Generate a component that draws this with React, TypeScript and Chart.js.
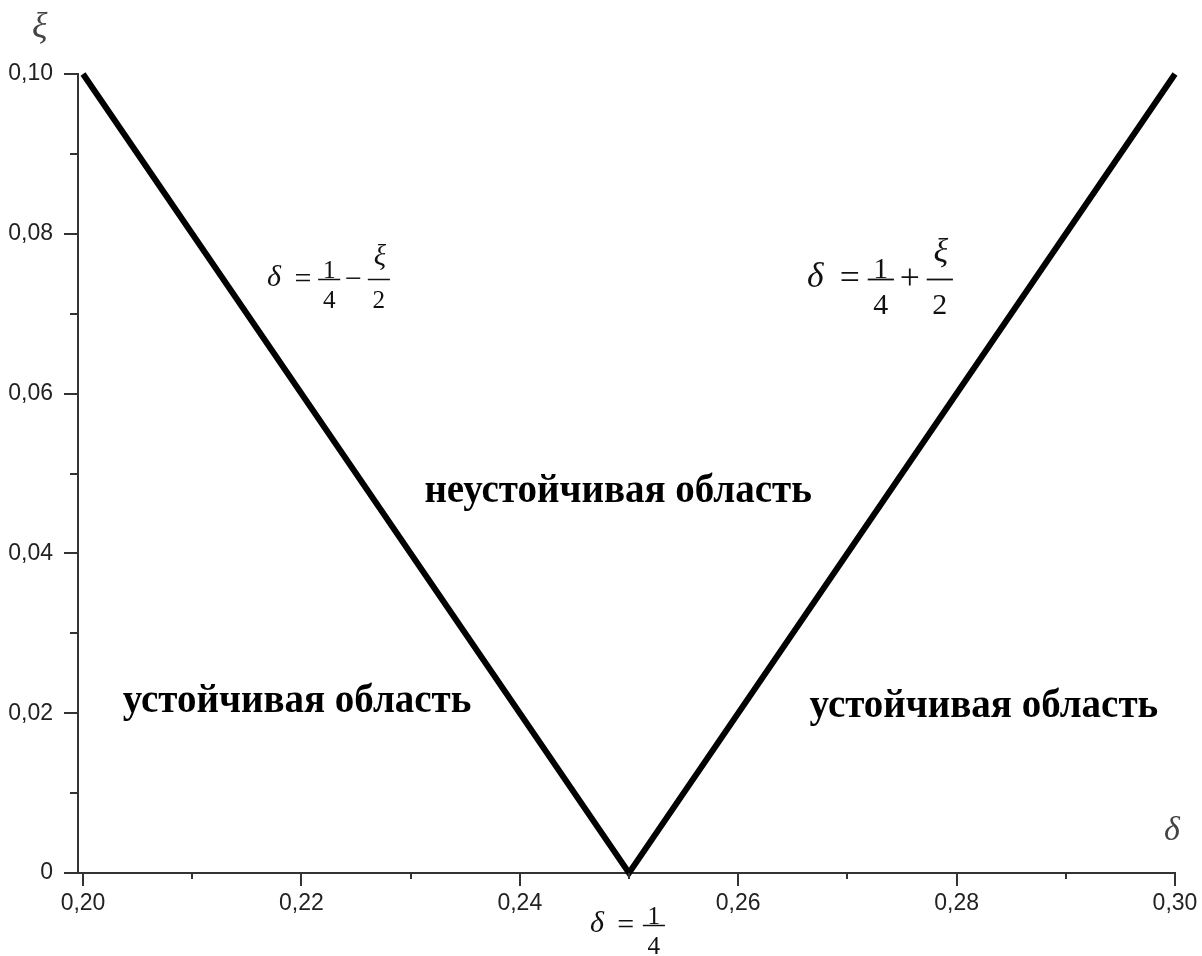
import { useEffect, useRef } from 'react';
import { Chart, registerables } from 'chart.js';

Chart.register(...registerables);

// ---- data ----
const DELTA = [0.2, 0.25, 0.3];
const XI = [0.1, 0, 0.1];

const X_MAJOR = [0.2, 0.22, 0.24, 0.26, 0.28, 0.3];
const X_MINOR = [0.21, 0.23, 0.25, 0.27, 0.29];
const X_LABELS = ['0,20', '0,22', '0,24', '0,26', '0,28', '0,30'];
const Y_MAJOR = [0, 0.02, 0.04, 0.06, 0.08, 0.1];
const Y_MINOR = [0.01, 0.03, 0.05, 0.07, 0.09];
const Y_LABELS = ['0', '0,02', '0,04', '0,06', '0,08', '0,10'];

const X_RANGE = [0.19954, 0.3];
const Y_RANGE = [0, 0.1];

const REGION_TEXT = ['неустойчивая область', 'устойчивая область', 'устойчивая область'];
const REGION_AT_X = [0.249, 0.2196, 0.2825];
const REGION_AT_Y = [0.0464, 0.0202, 0.0195];

type Part = { kind: 'sym' | 'op' | 'frac'; t?: string; n?: string; d?: string; ni?: boolean; at: number };

const FORMULA_LEFT: Part[] = [
  { kind: 'sym', t: 'δ', at: 0 },
  { kind: 'op', t: '=', at: 1.15 },
  { kind: 'frac', n: '1', d: '4', at: 2.13 },
  { kind: 'op', t: '−', at: 3.25 },
  { kind: 'frac', n: 'ξ', d: '2', ni: true, at: 4.2 },
];
const FORMULA_RIGHT: Part[] = [
  { kind: 'sym', t: 'δ', at: 0 },
  { kind: 'op', t: '=', at: 1.15 },
  { kind: 'frac', n: '1', d: '4', at: 2.13 },
  { kind: 'op', t: '+', at: 3.25 },
  { kind: 'frac', n: 'ξ', d: '2', ni: true, at: 4.2 },
];
const FORMULA_BOTTOM: Part[] = [
  { kind: 'sym', t: 'δ', at: 0 },
  { kind: 'op', t: '=', at: 1.13 },
  { kind: 'frac', n: '1', d: '4', at: 2.2 },
];

const FORMULAS = [
  { x: 0.21685, y: 0.0743, s: 24, parts: FORMULA_LEFT },
  { x: 0.2663, y: 0.0743, s: 28.5, parts: FORMULA_RIGHT },
  { x: 0.24643, y: -0.0065, s: 24, parts: FORMULA_BOTTOM },
];

const SERIF = "'Liberation Serif', 'Times New Roman', serif";
const SANS = "'Liberation Sans', Arial, sans-serif";

function near(a: number, b: number) {
  return Math.abs(a - b) < 1e-9;
}

function drawFormula(ctx: CanvasRenderingContext2D, x0: number, bar: number, s: number, parts: Part[]) {
  ctx.fillStyle = '#111';
  ctx.strokeStyle = '#111';
  ctx.textBaseline = 'alphabetic';
  for (const p of parts) {
    const x = x0 + p.at * s;
    if (p.kind === 'sym') {
      ctx.font = `italic ${1.25 * s}px ${SERIF}`;
      ctx.textAlign = 'left';
      ctx.fillText(p.t as string, x, bar + 0.26 * s);
    } else if (p.kind === 'op') {
      const fs = 1.25 * s;
      ctx.font = `${fs}px ${SERIF}`;
      ctx.textAlign = 'left';
      ctx.fillText(p.t as string, x, bar + 0.27 * fs);
    } else {
      const w = 0.92 * s;
      ctx.lineWidth = Math.max(1.4, s / 16);
      ctx.beginPath();
      ctx.moveTo(x, bar);
      ctx.lineTo(x + w, bar);
      ctx.stroke();
      ctx.textAlign = 'center';
      if (p.ni) {
        ctx.font = `italic ${1.2 * s}px ${SERIF}`;
        ctx.fillText(p.n as string, x + w / 2 + 1, bar - 0.6 * s);
      } else {
        ctx.font = `${1.05 * s}px ${SERIF}`;
        ctx.fillText(p.n as string, x + w / 2, bar - 0.06 * s);
      }
      ctx.font = `${1.05 * s}px ${SERIF}`;
      ctx.fillText(p.d as string, x + w / 2, bar + 1.2 * s);
    }
  }
}

const decorPlugin = {
  id: 'decor',
  afterDraw(chart: any) {
    const ctx: CanvasRenderingContext2D = chart.ctx;
    const xs = chart.scales.x;
    const ys = chart.scales.y;
    const { left, bottom, top, right } = chart.chartArea;
    ctx.save();
    // tick marks
    ctx.strokeStyle = '#333';
    ctx.lineWidth = 2;
    const seg = (x1: number, y1: number, x2: number, y2: number) => {
      ctx.beginPath();
      ctx.moveTo(x1, y1);
      ctx.lineTo(x2, y2);
      ctx.stroke();
    };
    Y_MAJOR.forEach((v) => {
      const y = Math.round(ys.getPixelForValue(v));
      seg(left - 14, y, left, y);
    });
    Y_MINOR.forEach((v) => {
      const y = Math.round(ys.getPixelForValue(v));
      seg(left - 8, y, left, y);
    });
    X_MAJOR.forEach((v) => {
      const x = Math.round(xs.getPixelForValue(v));
      seg(x, bottom, x, bottom + 13);
    });
    X_MINOR.forEach((v) => {
      const x = Math.round(xs.getPixelForValue(v));
      seg(x, bottom, x, bottom + 6);
    });

    // axis titles
    ctx.fillStyle = '#444';
    ctx.textAlign = 'left';
    ctx.textBaseline = 'alphabetic';
    ctx.font = `italic 36px ${SERIF}`;
    ctx.fillText('ξ', left - 46, top - 37);
    ctx.font = `italic 34px ${SERIF}`;
    ctx.fillText('δ', right - 11, bottom - 33);

    // region labels
    ctx.fillStyle = '#000';
    ctx.textAlign = 'center';
    ctx.font = `bold 39px ${SERIF}`;
    REGION_TEXT.forEach((t, i) => {
      ctx.fillText(t, xs.getPixelForValue(REGION_AT_X[i]), ys.getPixelForValue(REGION_AT_Y[i]));
    });

    // formulas
    FORMULAS.forEach((f) => {
      drawFormula(ctx, xs.getPixelForValue(f.x), Math.round(ys.getPixelForValue(f.y)) + 0.5, f.s, f.parts);
    });
    ctx.restore();
  },
};

export default function App() {
  const ref = useRef<HTMLCanvasElement | null>(null);
  useEffect(() => {
    if (!ref.current) return;
    const chart = new Chart(ref.current, {
      type: 'line',
      data: {
        datasets: [
          {
            data: DELTA.map((x, i) => ({ x, y: XI[i] })),
            borderColor: '#000',
            borderWidth: 6,
            pointRadius: 0,
            tension: 0,
            fill: false,
            borderJoinStyle: 'miter',
            borderCapStyle: 'butt',
            clip: false,
          } as any,
        ],
      },
      options: {
        animation: false,
        responsive: false,
        maintainAspectRatio: false,
        layout: { padding: { top: 74, right: 27, left: 0, bottom: 0 } },
        plugins: { legend: { display: false }, tooltip: { enabled: false } },
        scales: {
          x: {
            type: 'linear',
            min: X_RANGE[0],
            max: X_RANGE[1],
            afterBuildTicks: (s: any) => {
              s.ticks = [...X_MAJOR, ...X_MINOR].sort((a, b) => a - b).map((v) => ({ value: v }));
            },
            afterFit: (s: any) => {
              s.height = 83;
              s.paddingLeft = 0;
              s.paddingRight = 0;
            },
            grid: { display: false, drawTicks: false },
            border: { display: true, color: '#333', width: 2 },
            ticks: {
              autoSkip: false,
              maxRotation: 0,
              padding: 17,
              color: '#222',
              font: { family: SANS, size: 23 },
              callback: (v: any) => {
                const i = X_MAJOR.findIndex((m) => near(m, Number(v)));
                return i >= 0 ? X_LABELS[i] : '';
              },
            },
          },
          y: {
            type: 'linear',
            min: Y_RANGE[0],
            max: Y_RANGE[1],
            afterBuildTicks: (s: any) => {
              s.ticks = [...Y_MAJOR, ...Y_MINOR].sort((a, b) => a - b).map((v) => ({ value: v }));
            },
            afterFit: (s: any) => {
              s.width = 78;
              s.paddingTop = 0;
              s.paddingBottom = 0;
            },
            grid: { display: false, drawTicks: false },
            border: { display: true, color: '#333', width: 2 },
            ticks: {
              autoSkip: false,
              padding: 25,
              color: '#222',
              font: { family: SANS, size: 23 },
              callback: (v: any) => {
                const i = Y_MAJOR.findIndex((m) => near(m, Number(v)));
                return i >= 0 ? Y_LABELS[i] : '';
              },
            },
          },
        },
      },
      plugins: [decorPlugin],
    } as any);
    return () => chart.destroy();
  }, []);
  return (
    <div style={{ position: 'fixed', left: 0, top: 0, width: 1202, height: 956, background: '#fff' }}>
      <canvas ref={ref} width={1202} height={956} style={{ width: 1202, height: 956, display: 'block' }} />
    </div>
  );
}
